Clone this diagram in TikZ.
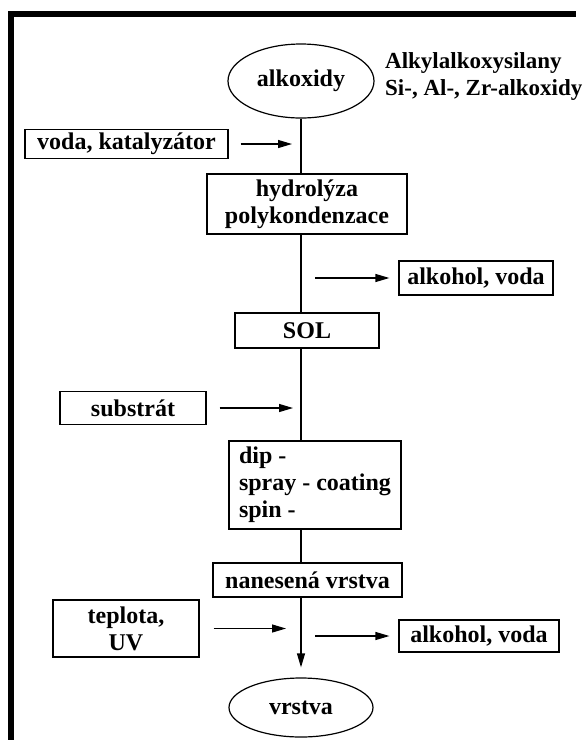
\documentclass[tikz,border=0pt]{standalone}
\usepackage{fontspec}
\setmainfont{Liberation Serif}
\usetikzlibrary{shapes,arrows.meta,calc}

\begin{document}
\begin{tikzpicture}[x=1pt,y=-1pt,font=\fontsize{24}{27}\selectfont\bfseries]
	\tikzstyle{box} = [rectangle, draw, line width=1.2pt, inner sep=0pt, align=center];
	\tikzstyle{oval} = [ellipse, draw, line width=1.2pt, inner sep=0pt];
	\tikzstyle{feed} = [-{Triangle[length=14pt,width=8pt]}, line width=1.2pt];
	\tikzstyle{trunk} = [line width=1.2pt];
	
	\useasboundingbox (0,0) rectangle (586,740);
	\draw[line width=6pt] (11,740) -- (11,14) -- (576,14);
	
	\coordinate (spine) at (301,0);
	
	\node[oval, minimum width=146pt, minimum height=74pt] (alk) at (301,81) {alkoxidy};
	\node[anchor=west, align=left, inner sep=0pt, font=\fontsize{23}{27}\selectfont\bfseries] (prec) at (385,76) {Alkylalkoxysilany\\Si-, Al-, Zr-alkoxidy};
	
	\node[box, minimum width=203pt, minimum height=29pt] (voda) at (126.5,144) {voda, katalyzátor};
	\node[box, minimum width=200pt, minimum height=60pt] (hyd) at (307,204) {hydrolýza\\polykondenzace};
	\node[box, minimum width=154pt, minimum height=34pt] (out1) at (476,278) {alkohol, voda};
	\node[box, minimum width=144pt, minimum height=35pt] (sol) at (307,330.5) {SOL};
	\node[box, minimum width=146pt, minimum height=33pt] (sub) at (133,408) {substrát};
	\node[box, align=left, minimum width=172pt, minimum height=88pt] (dip) at (315,485) {dip -\\spray - coating\\spin -};
	\node[box, minimum width=189pt, minimum height=34pt] (nan) at (307.5,580) {nanesená vrstva};
	\node[box, minimum width=146pt, minimum height=57pt] (tep) at (126,628.5) {teplota,\\UV};
	\node[box, minimum width=160pt, minimum height=32pt] (out2) at (479,636) {alkohol, voda};
	\node[oval, minimum width=144pt, minimum height=59pt] (lay) at (301,707.5) {vrstva};
	
	% main line
	\draw[trunk] (alk.south) -- (spine |- hyd.north);
	\draw[trunk] (spine |- hyd.south) -- (spine |- sol.north);
	\draw[trunk] (spine |- sol.south) -- (spine |- dip.north);
	\draw[trunk] (spine |- dip.south) -- (spine |- nan.north);
	\draw[feed, shorten >=10pt] (spine |- nan.south) -- (lay.north);
	
	% inputs and outputs
	\draw[feed, shorten <=12pt, shorten >=9pt] (voda.east) -- (voda.east -| spine);
	\draw[feed, shorten <=14pt, shorten >=9pt] (spine |- out1.west) -- (out1.west);
	\draw[feed, shorten <=13pt, shorten >=8pt] (sub.east) -- (sub.east -| spine);
	\draw[feed, shorten <=14pt, shorten >=15pt] (tep.east) -- (tep.east -| spine);
	\draw[feed, shorten <=14pt, shorten >=9pt] (spine |- out2.west) -- (out2.west);
\end{tikzpicture}
\end{document}
